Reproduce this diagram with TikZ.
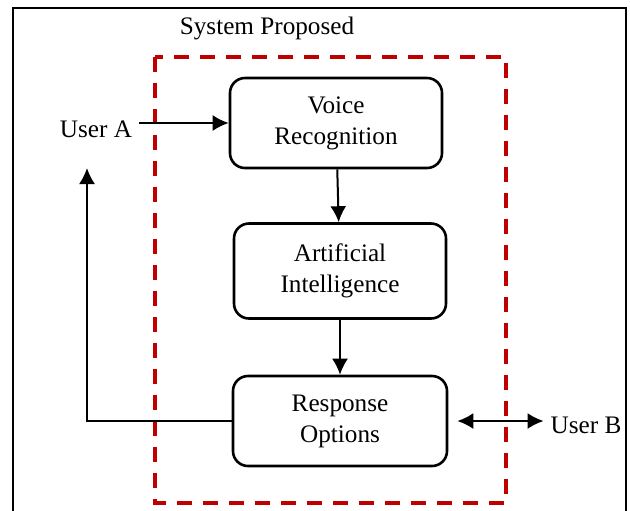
\documentclass[tikz,border=0pt]{standalone}
\usepackage{fontspec}
\setmainfont{Liberation Serif}
\usepackage{xcolor}
\usetikzlibrary{shapes,arrows,arrows.meta}
\definecolor{darkred}{HTML}{C00000}

\begin{document}
\begin{tikzpicture}[x=0.5pt, y=-0.5pt, node distance = 74pt, auto,
        every node/.style={font=\rmfamily\fontsize{12.6}{15.5}\selectfont}]
        \tikzstyle{block} = [rectangle, draw, line width=1.3pt, rounded corners=7.5pt, minimum width=106pt, minimum height=45pt, align=center]
        \tikzstyle{line} = [draw, line width=1pt, -{Latex[length=8pt, width=8pt]}]
        \tikzstyle{frame} = [draw, line width=0.6pt]
        \tikzstyle{system} = [draw=darkred, line width=1.6pt, dash pattern=on 7.5pt off 5.5pt]

    \useasboundingbox (0,0) rectangle (630,510);
    \path[frame] (13,520) -- (13,8) -- (626,8) -- (626,520);
    \path[system] (155,57) rectangle (506,503);

    \node (title) at (267,28) {System Proposed};
    \node [block] (voice) at (336,123) {Voice\\Recognition};
    \node [block, below of=voice, xshift=2pt, minimum height=47.5pt] (ai) {Artificial\\Intelligence};
    \node [block, below of=ai, node distance=75pt, minimum width=107pt] (response) {Response\\Options};
    \node (user a) at (96,129) {User A};
    \node (user b) at (586,425) {User B};
    \coordinate (back) at (87,168);

    \path [line] (user a.east |- voice) -- (voice);
    \path [line] (voice) -- (ai);
    \path [line] (ai) -- (response);
    \path [line] (response.west) -| (back);
    \path [line, {Latex[length=8pt, width=8pt]}-{Latex[length=8pt, width=8pt]}] ([xshift=4.5pt]response.east) -- (user b.west |- response);
    \end{tikzpicture}
\end{document}
